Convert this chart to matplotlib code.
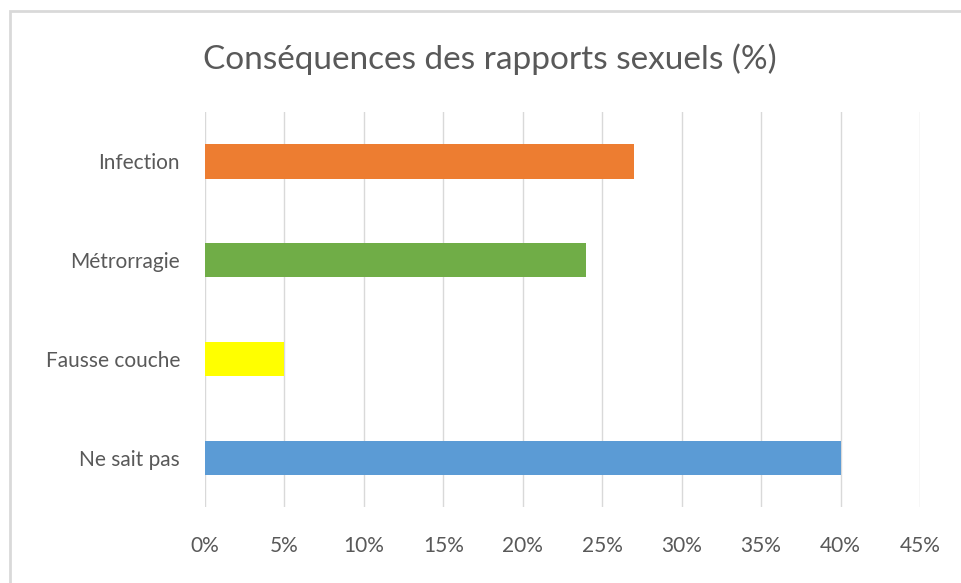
import matplotlib.pyplot as plt
import matplotlib.ticker as ticker
from matplotlib.patches import Rectangle

categories = ["Infection", "Métrorragie", "Fausse couche", "Ne sait pas"]
values = [0.27, 0.24, 0.05, 0.40]
colors = ["#ED7D31", "#70AD47", "#FFFF00", "#5B9BD5"]
xticks = [0, 0.05, 0.10, 0.15, 0.20, 0.25, 0.30, 0.35, 0.40, 0.45]

plt.rcParams['font.family'] = ['Lato', 'DejaVu Sans']

fig = plt.figure(figsize=(9.61, 5.83), dpi=100)
ax = fig.add_axes([0.2133, 0.130, 0.744, 0.678])

ypos = list(range(len(categories)))
ax.barh(ypos, values, height=0.35, color=colors, zorder=3)
ax.set_ylim(len(categories) - 0.5, -0.5)
ax.set_xlim(0, 0.45)
ax.set_yticks(ypos)
ax.set_yticklabels(categories, fontsize=15, color='#595959')
ax.set_xticks(xticks)
ax.xaxis.set_major_formatter(ticker.FuncFormatter(lambda v, p: f"{round(v * 100)}%"))
ax.tick_params(axis='x', labelsize=15, colors='#595959', length=0, pad=21)
ax.tick_params(axis='y', length=0, pad=18)
ax.grid(axis='x', color='#d9d9d9', linewidth=1, zorder=0)
for s in ax.spines.values():
    s.set_visible(False)

fig.text(0.51, 0.898, "Conséquences des rapports sexuels (%)", ha='center', va='center',
         fontsize=24, color='#595959')

# outer chart border
fig.patches.append(Rectangle((10 / 961, -0.05), 1.1, 1 - 11 / 583 + 0.05, transform=fig.transFigure,
                             fill=False, edgecolor='#d9d9d9', linewidth=2))

plt.savefig('out.png', dpi=100)
